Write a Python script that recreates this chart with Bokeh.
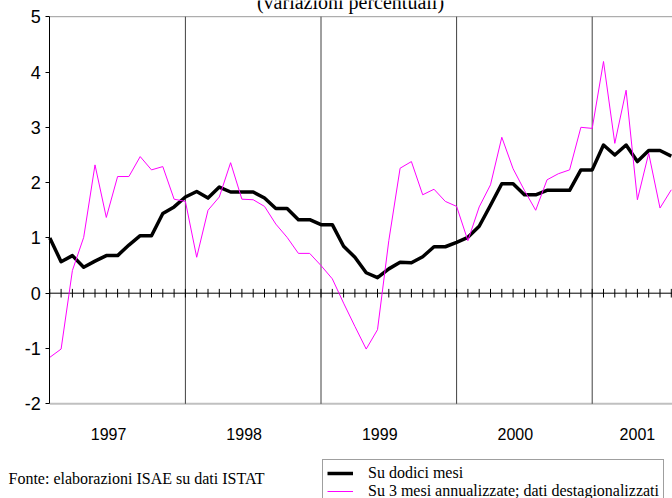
from bokeh.plotting import figure
from bokeh.models import (Range1d, FixedTicker, LinearAxis, Label, Legend, LegendItem)
from bokeh.core.properties import value
from bokeh.embed import file_html
from bokeh.resources import INLINE

# ---- data (monthly, Jan 1997 = 0) ----
years = ["1997", "1998", "1999", "2000", "2001"]
dodici_mesi = [1.00, 0.57, 0.68, 0.47, 0.58, 0.68, 0.68, 0.87, 1.04, 1.04, 1.44, 1.56,
               1.74, 1.84, 1.72, 1.92, 1.83, 1.83, 1.83, 1.72, 1.53, 1.53, 1.33, 1.33,
               1.24, 1.24, 0.85, 0.65, 0.37, 0.28, 0.44, 0.56, 0.55, 0.66, 0.84, 0.84,
               0.92, 1.01, 1.21, 1.59, 1.98, 1.98, 1.78, 1.78, 1.86, 1.86, 1.86, 2.23,
               2.23, 2.68, 2.50, 2.68, 2.38, 2.58, 2.58, 2.48]
tre_mesi = [-1.16, -1.01, 0.41, 1.01, 2.32, 1.37, 2.11, 2.11, 2.47, 2.23, 2.29, 1.70,
            1.66, 0.65, 1.50, 1.74, 2.36, 1.70, 1.69, 1.57, 1.25, 1.01, 0.72, 0.72,
            0.50, 0.26, -0.18, -0.60, -1.01, -0.66, 0.95, 2.26, 2.38, 1.78, 1.88, 1.66,
            1.57, 0.95, 1.56, 1.96, 2.82, 2.25, 1.86, 1.50, 2.05, 2.16, 2.23, 3.00,
            2.98, 4.19, 2.71, 3.67, 1.69, 2.53, 1.54, 1.87]
y_ticks = [-2, -1, 0, 1, 2, 3, 4, 5]
months = list(range(len(dodici_mesi)))

title_text = "(variazioni percentuali)"
source_text = "Fonte: elaborazioni ISAE su dati ISTAT"
name_dodici = "Su dodici mesi"
name_tre = "Su 3 mesi annualizzate; dati destagionalizzati"

# ---- geometry (frame covers the whole canvas) ----
W, H = 672, 498
X0_PX, Y0_PX = 49.3, 292.7      # pixel position of month 0 / value 0
PX_MONTH, PX_UNIT = 11.3, 55.3
x_start = -X0_PX / PX_MONTH
x_end = (W - X0_PX) / PX_MONTH
y_top = Y0_PX / PX_UNIT
y_bottom = (Y0_PX - H) / PX_UNIT

p = figure(width=W, height=H, output_backend="svg", toolbar_location=None,
           x_range=Range1d(x_start, x_end), y_range=Range1d(y_bottom, y_top),
           x_axis_location=None, y_axis_location=None,
           min_border_left=0, min_border_right=0, min_border_top=0,
           min_border_bottom=0)
p.outline_line_color = None
p.background_fill_color = "white"
p.border_fill_color = "white"
p.grid.visible = False

y_lo, y_hi = min(y_ticks), max(y_ticks)

# frame top / bottom lines
p.segment(x0=[0], y0=[y_hi], x1=[x_end], y1=[y_hi], line_color="#9a9a9a", line_width=1)
p.segment(x0=[0], y0=[y_lo], x1=[x_end], y1=[y_lo], line_color="#c0c0c0", line_width=2)

# year separators
seps = [12 * i for i in range(1, len(years))]
p.segment(x0=seps, y0=[y_lo] * len(seps), x1=seps, y1=[y_hi] * len(seps),
          line_color="#404040", line_width=1)

# zero line with monthly ticks
p.segment(x0=[0], y0=[0], x1=[x_end], y1=[0], line_color="black", line_width=1)
tick_half = 4.3 / PX_UNIT
p.segment(x0=months, y0=[-tick_half] * len(months), x1=months, y1=[tick_half] * len(months),
          line_color="black", line_width=1)

# y axis at month 0
yax = LinearAxis(fixed_location=0, ticker=FixedTicker(ticks=y_ticks), bounds=(y_lo, y_hi))
yax.major_label_overrides = {t: str(t) for t in y_ticks}
yax.axis_line_color = "black"
yax.major_tick_line_color = "black"
yax.major_tick_out = 4
yax.major_tick_in = 0
yax.minor_tick_line_color = None
yax.major_label_text_font = "Liberation Sans"
yax.major_label_text_font_size = "18px"
yax.major_label_text_color = "black"
yax.major_label_standoff = 5
p.add_layout(yax, "left")

# year labels under the plot area
year_pos = [12 * i + 5.2 for i in range(len(years) - 1)] + [52]
label_y = y_lo - (433 - 403.3) / PX_UNIT
p.text(x=year_pos, y=[label_y] * len(years), text=years,
       text_font=value("Liberation Sans"), text_font_size="16px",
       text_align="center", text_baseline="middle", text_color="black")

r1 = p.line(months, dodici_mesi, line_color="black", line_width=3.5, line_join="round")
r2 = p.line(months, tre_mesi, line_color="#ff00ff", line_width=1)

legend = Legend(items=[LegendItem(label=name_dodici, renderers=[r1]),
                       LegendItem(label=name_tre, renderers=[r2])],
                location=(322, -7), orientation="vertical",
                label_text_font="Liberation Serif", label_text_font_size="16px",
                label_text_color="black", glyph_width=26, glyph_height=12,
                label_height=12, label_standoff=15, spacing=-2, padding=4,
                border_line_color="#404040", border_line_width=1,
                background_fill_color="white", background_fill_alpha=1.0,
                margin=0)
p.add_layout(legend, "center")

# title (cut at the top edge) and source
p.add_layout(Label(x=350, y=H - 1, x_units="screen", y_units="screen",
                   text=title_text, text_align="center", text_baseline="alphabetic",
                   text_font="Liberation Serif", text_font_size="20px",
                   text_color="black"))
p.add_layout(Label(x=8, y=H - 478, x_units="screen", y_units="screen",
                   text=source_text, text_align="left", text_baseline="middle",
                   text_font="Liberation Serif", text_font_size="16px",
                   text_color="black"))

open("out.html", "w").write(file_html(p, INLINE))
